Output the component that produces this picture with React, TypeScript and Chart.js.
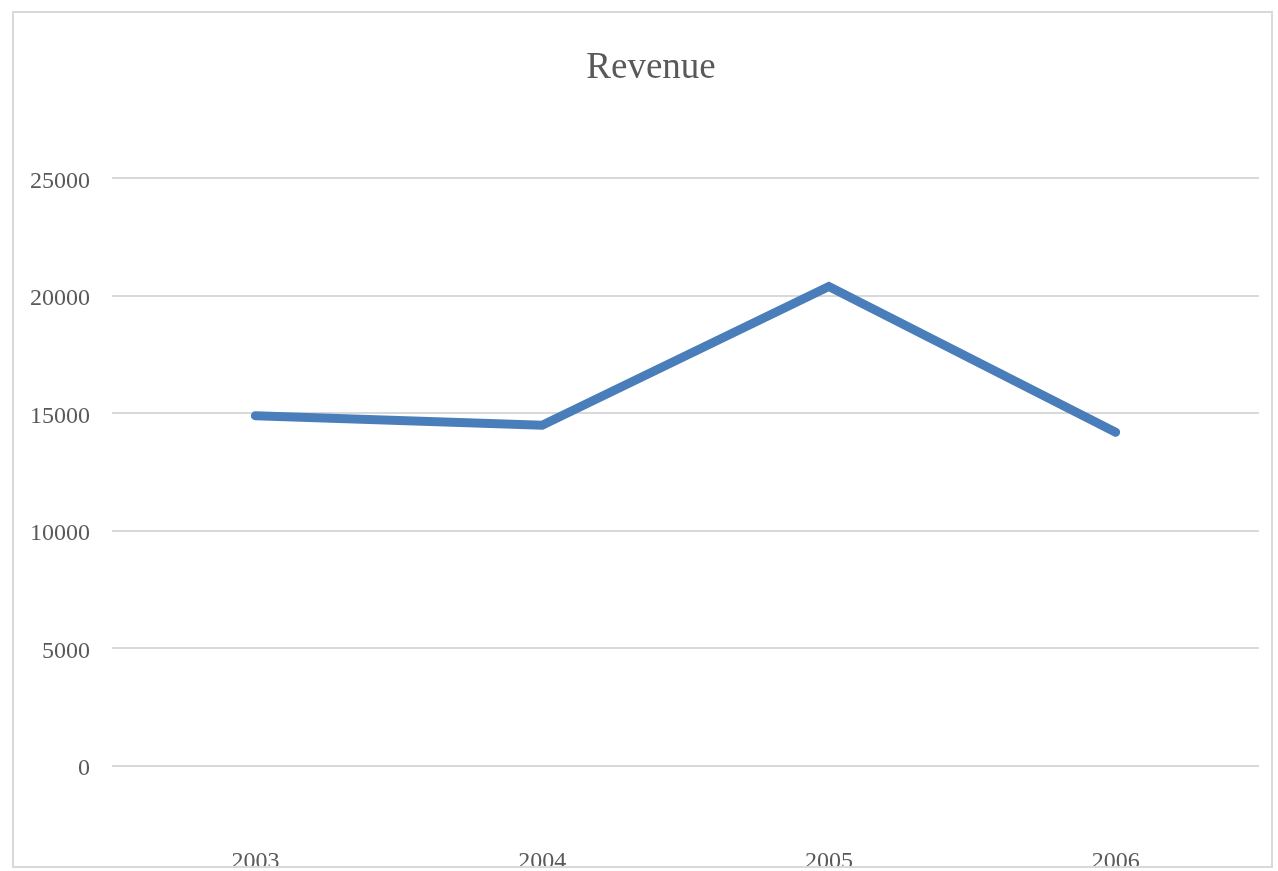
import React, { useEffect, useRef } from "react";
import { Chart, registerables } from "chart.js";

Chart.register(...registerables);

const chartTitle = "Revenue";
const years = ["2003", "2004", "2005", "2006"];
const revenue = [14900, 14500, 20400, 14200];
const yMin = 0;
const yMax = 25000;
const yStep = 5000;

const FONT = "'Liberation Serif', 'Times New Roman', serif";
const TEXT = "#595959";

export default function App() {
  const ref = useRef<HTMLCanvasElement | null>(null);

  useEffect(() => {
    if (!ref.current) return;
    const chart = new Chart(ref.current, {
      type: "line",
      data: {
        labels: years,
        datasets: [
          {
            label: chartTitle,
            data: revenue,
            yAxisID: "y",
            borderColor: "#4a7ebb",
            backgroundColor: "#4a7ebb",
            borderWidth: 9,
            borderCapStyle: "round",
            borderJoinStyle: "miter",
            pointRadius: 0,
            tension: 0,
            fill: false,
          },
        ],
      },
      options: {
        responsive: false,
        animation: false,
        layout: { padding: { left: 28, right: 4, top: 0, bottom: 0 } },
        plugins: {
          legend: { display: false },
          tooltip: { enabled: false },
          title: {
            display: true,
            text: chartTitle,
            color: TEXT,
            font: { family: FONT, size: 37, weight: "normal", lineHeight: 1.2 },
            padding: { top: 46, bottom: 88 },
          },
        },
        scales: {
          x: {
            offset: true,
            grid: { display: false, drawTicks: false },
            border: { display: false },
            ticks: {
              color: TEXT,
              font: { family: FONT, size: 24 },
              padding: 81,
              maxRotation: 0,
            },
            afterFit: (scale: any) => {
              scale.height = 105;
            },
          },
          y: {
            position: "left",
            min: yMin,
            max: yMax,
            grid: { color: "#d9d9d9", lineWidth: 2, drawTicks: false },
            border: { display: false },
            ticks: {
              stepSize: yStep,
              color: TEXT,
              font: { family: FONT, size: 24 },
              padding: 22,
              labelOffset: 3,
              callback: (v: any) => String(v),
            },
            afterFit: (scale: any) => {
              scale.width = 84;
            },
          },
          ySpacer: {
            position: "right",
            min: yMin,
            max: yMax,
            grid: { display: false, drawTicks: false },
            border: { display: false },
            ticks: { display: false },
            afterFit: (scale: any) => {
              scale.width = 15;
            },
          },
        },
      },
    });
    return () => chart.destroy();
  }, []);

  return (
    <div style={{ position: "fixed", left: 0, top: 0, width: 1278, height: 871, background: "#fff" }}>
      <canvas ref={ref} width={1278} height={871} style={{ position: "absolute", left: 0, top: 0 }} />
      <div
        style={{
          position: "absolute",
          left: 12,
          top: 11,
          width: 1257,
          height: 853,
          border: "2px solid #d9d9d9",
          pointerEvents: "none",
        }}
      />
    </div>
  );
}
